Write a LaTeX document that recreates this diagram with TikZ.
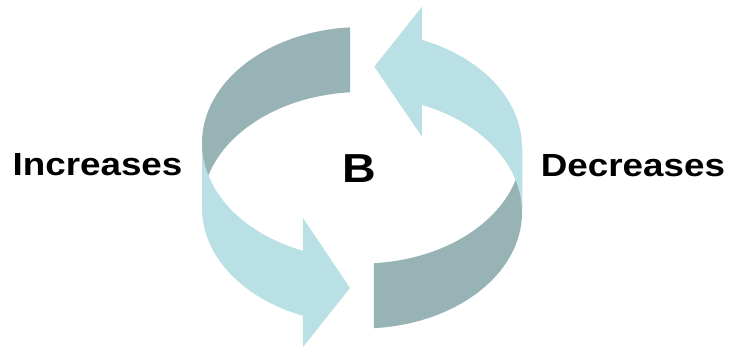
\documentclass[tikz,border=0pt]{standalone}
\usepackage{fontspec}
\newfontfamily\wordfont[FakeStretch=1.15]{Liberation Sans}
\usepackage{xcolor}
\usetikzlibrary{calc}
\definecolor{ringdark}{RGB}{151,179,181}
\definecolor{ringlight}{RGB}{185,224,228}

\begin{document}
\begin{tikzpicture}[
	x=1pt, y=1pt,
	back/.style={fill=ringdark},
	front/.style={fill=ringlight},
	word/.style={font=\wordfont\bfseries\fontsize{32}{32}\selectfont, inner sep=0pt},
	letter/.style={font=\wordfont\bfseries\fontsize{40.5}{40}\selectfont, inner sep=0pt}
	]
	\useasboundingbox (0,0) rectangle (734,350);
	% centres of the ring's upper and lower rims, left and right halves
	\coordinate (lt) at (362,207);
	\coordinate (lb) at (362,142);
	\coordinate (rt) at (362,202.5);
	\coordinate (rb) at (362,137.5);
	% back of the ring
	\fill[back] ($(lt)+(94.3:160 and 116)$) arc[start angle=94.3, end angle=180, x radius=160, y radius=116]
		-- ($(lb)+(180:160 and 116)$) arc[start angle=180, end angle=94.3, x radius=160, y radius=116] -- cycle;
	\fill[back] ($(rt)+(274.3:160 and 116)$) arc[start angle=274.3, end angle=360, x radius=160, y radius=116]
		-- ($(rb)+(0:160 and 116)$) arc[start angle=0, end angle=-85.7, x radius=160, y radius=116] -- cycle;
	% front of the ring, with the arrow heads
	\fill[front] ($(lt)+(180:160 and 116)$) arc[start angle=180, end angle=248.3, x radius=160, y radius=116]
		-- (303,132) -- (350,62) -- (303,3)
		-- ($(lb)+(248.3:160 and 116)$) arc[start angle=248.3, end angle=180, x radius=160, y radius=116] -- cycle;
	\fill[front] ($(rt)+(68:160 and 116)$) arc[start angle=68, end angle=0, x radius=160, y radius=116]
		-- ($(rb)+(0:160 and 116)$) arc[start angle=0, end angle=68, x radius=160, y radius=116]
		-- (422,213.3) -- (374.3,283.3) -- (422,343.3) -- cycle;
	% labels
	\node[letter] (b) at (359,181.5) {B};
	\node[word] (inc) at (97.5,185.5) {Increases};
	\node[word] (dec) at (633,184) {Decreases};
\end{tikzpicture}
\end{document}
